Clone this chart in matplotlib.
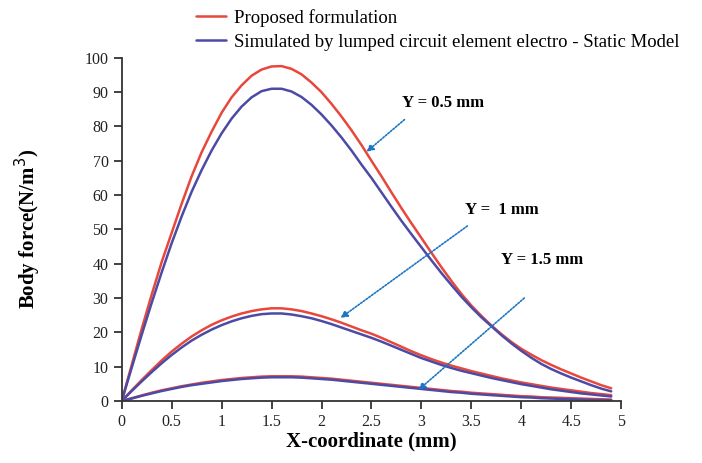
import numpy as np
import matplotlib
matplotlib.use("Agg")
import matplotlib.pyplot as plt

plt.rcParams['font.family'] = ['Liberation Serif', 'DejaVu Serif']

x_mm = np.round(np.arange(0, 4.95, 0.1), 1)

# Y = 0.5 mm
prop_05 = [0, 10.5, 21, 31, 40.5, 49, 57.5, 65.5, 72.5, 78.5,
           84, 88.5, 92, 94.8, 96.6, 97.5, 97.6, 96.8, 95.2, 92.8,
           90, 86.6, 82.9, 78.9, 74.6, 70, 65.5, 60.8, 56.2, 51.8,
           47.5, 43.2, 39, 35, 31.2, 27.8, 24.8, 22, 19.5, 17.2,
           15.2, 13.5, 11.9, 10.5, 9.2, 8, 6.8, 5.7, 4.6, 3.7]
sim_05 = [0, 9.7, 19.3, 28.6, 37.5, 46, 53.8, 61, 67.3, 73,
          78, 82.3, 85.8, 88.5, 90.3, 91, 91, 90.2, 88.6, 86.3,
          83.5, 80.3, 76.8, 73, 68.9, 65, 60.8, 56.6, 52.5, 48.6,
          44.8, 41, 37.3, 33.8, 30.4, 27.3, 24.4, 21.8, 19.2, 16.8,
          14.6, 12.6, 10.8, 9.3, 8, 6.8, 5.7, 4.6, 3.6, 2.8]
# Y = 1 mm
prop_1 = [0, 3.1, 6.1, 9, 11.8, 14.4, 16.7, 18.8, 20.6, 22.2,
          23.5, 24.6, 25.5, 26.2, 26.7, 27, 27, 26.7, 26.2, 25.5,
          24.7, 23.8, 22.8, 21.7, 20.6, 19.6, 18.4, 17.1, 15.8, 14.5,
          13.3, 12.2, 11.2, 10.3, 9.5, 8.7, 8, 7.3, 6.6, 6,
          5.4, 4.9, 4.4, 3.9, 3.5, 3.1, 2.7, 2.3, 2, 1.7]
sim_1 = [0, 2.9, 5.7, 8.4, 11, 13.4, 15.6, 17.6, 19.3, 20.8,
         22.1, 23.2, 24.1, 24.8, 25.3, 25.5, 25.5, 25.2, 24.7, 24.1,
         23.3, 22.4, 21.4, 20.4, 19.4, 18.4, 17.3, 16.1, 14.9, 13.7,
         12.5, 11.5, 10.5, 9.6, 8.8, 8.1, 7.4, 6.7, 6.1, 5.5,
         4.9, 4.4, 3.9, 3.4, 3, 2.6, 2.2, 1.9, 1.6, 1.3]
# Y = 1.5 mm
prop_15 = [0, 0.8, 1.6, 2.4, 3.1, 3.7, 4.3, 4.8, 5.3, 5.7,
           6.1, 6.4, 6.7, 6.9, 7.1, 7.2, 7.2, 7.2, 7.1, 6.9,
           6.7, 6.5, 6.2, 5.9, 5.6, 5.3, 5, 4.7, 4.4, 4.1,
           3.8, 3.5, 3.2, 2.9, 2.7, 2.4, 2.2, 2, 1.8, 1.6,
           1.4, 1.3, 1.1, 1, 0.9, 0.8, 0.7, 0.6, 0.5, 0.4]
sim_15 = [0, 0.7, 1.5, 2.2, 2.9, 3.5, 4.1, 4.6, 5.0, 5.4,
          5.8, 6.1, 6.4, 6.6, 6.8, 6.9, 6.9, 6.9, 6.8, 6.6,
          6.4, 6.2, 5.9, 5.6, 5.3, 5.0, 4.7, 4.4, 4.1, 3.8,
          3.5, 3.2, 2.9, 2.6, 2.4, 2.1, 1.9, 1.7, 1.5, 1.3,
          1.1, 1.0, 0.8, 0.7, 0.6, 0.5, 0.4, 0.3, 0.25, 0.2]

labels = ["Proposed formulation",
          "Simulated by lumped circuit element electro - Static Model"]
x_ticks = [0, 0.5, 1, 1.5, 2, 2.5, 3, 3.5, 4, 4.5, 5]
x_ticklabels = ['0', '0.5', '1', '1.5', '2', '2.5', '3', '3.5', '4', '4.5', '5']
y_ticks = [0, 10, 20, 30, 40, 50, 60, 70, 80, 90, 100]

red = '#e8473c'
blue = '#4b4ba6'
arrow_col = '#1b75c4'

fig = plt.figure(figsize=(7.02, 4.63), dpi=100)
ax = fig.add_axes([0.1734, 0.134, 0.7115, 0.741])

kw = dict(lw=1.8, solid_joinstyle='round', solid_capstyle='round')
ax.plot(x_mm, prop_05, color=red, label=labels[0], **kw)
ax.plot(x_mm, sim_05, color=blue, label=labels[1], **kw)
ax.plot(x_mm, prop_1, color=red, **kw)
ax.plot(x_mm, sim_1, color=blue, **kw)
ax.plot(x_mm, prop_15, color=red, **kw)
ax.plot(x_mm, sim_15, color=blue, **kw)

ax.set_xlim(0, 5)
ax.set_ylim(0, 100)
ax.set_xticks(x_ticks)
ax.set_xticklabels(x_ticklabels)
ax.set_yticks(y_ticks)
ax.spines['top'].set_visible(False)
ax.spines['right'].set_visible(False)
for s in ['left', 'bottom']:
    ax.spines[s].set_linewidth(1.3)
    ax.spines[s].set_color('#333333')
ax.tick_params(direction='out', length=6, width=1.3, color='#333333',
               labelsize=11.5, labelcolor='#222222')

ax.set_xlabel("X-coordinate (mm)", fontsize=15, fontweight='bold', labelpad=1)
ax.set_ylabel("Body force(N/m$^3$)", fontsize=15, fontweight='bold', labelpad=30)

# annotations with dotted arrows
arr = dict(arrowstyle='-|>', color=arrow_col, lw=1.2, linestyle=(0, (1, 1)),
           mutation_scale=10, shrinkA=0, shrinkB=0)
ax.annotate("", xy=(2.45, 72.6), xytext=(2.83, 82), arrowprops=arr)
ax.annotate("", xy=(2.19, 24.2), xytext=(3.46, 51), arrowprops=arr)
ax.annotate("", xy=(2.97, 3.2), xytext=(4.03, 30), arrowprops=arr)
ax.text(3.22, 86.9, "Y = 0.5 mm", ha='center', va='center', fontsize=12, fontweight='bold')
ax.text(3.8, 55.7, "Y =  1 mm", ha='center', va='center', fontsize=12, fontweight='bold')
ax.text(4.21, 41.1, "Y = 1.5 mm", ha='center', va='center', fontsize=12, fontweight='bold')

ax.legend(loc='upper left', bbox_to_anchor=(196 / 702, 1 - 9 / 463),
          bbox_transform=fig.transFigure, frameon=False, fontsize=13.5,
          handlelength=1.6, handletextpad=0.4, borderpad=0, borderaxespad=0,
          labelspacing=0.35)

fig.savefig("out.png", dpi=100)
